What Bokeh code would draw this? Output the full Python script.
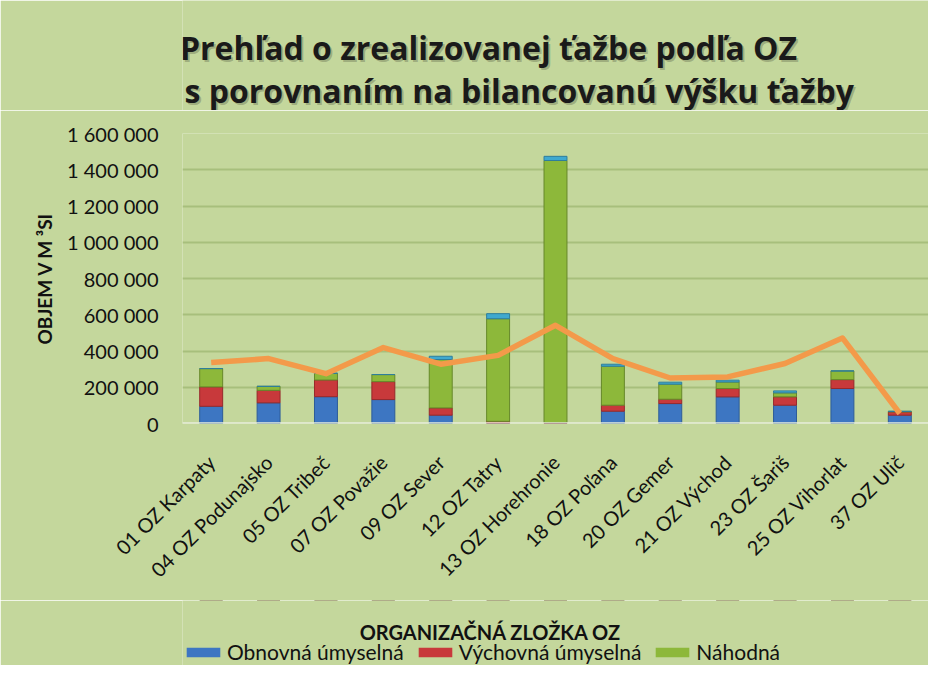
from bokeh.plotting import figure
from bokeh.models import (FactorRange, FixedTicker, Legend, LegendItem, Span, Label)
from bokeh.layouts import column
from bokeh.embed import file_html
from bokeh.resources import INLINE
import math

categories = ["01 OZ Karpaty", "04 OZ Podunajsko", "05 OZ Tribeč", "07 OZ Považie",
              "09 OZ Sever", "12 OZ Tatry", "13 OZ Horehronie", "18 OZ Poľana",
              "20 OZ Gemer", "21 OZ Východ", "23 OZ Šariš", "25 OZ Vihorlat", "37 OZ Ulič"]
obnovna = [95000, 114000, 148000, 132000, 46000, 0, 0, 68000, 110000, 147000, 101000, 193000, 46000]
vychovna = [107000, 69000, 92000, 99000, 40000, 12000, 5000, 33000, 24000, 46000, 46000, 49000, 18000]
nahodna = [101000, 22000, 37000, 39000, 267000, 566000, 1446000, 215000, 83000, 36000, 22000, 48000, 3000]
ostatne = [0, 0, 0, 0, 18000, 28000, 23000, 11000, 11000, 10000, 11000, 0, 0]
bilancia = [336000, 358000, 275000, 419000, 327000, 376000, 542000, 358000, 251000, 257000, 331000, 472000, 55000]
y_ticks = [0, 200000, 400000, 600000, 800000, 1000000, 1200000, 1400000, 1600000]
y_tick_labels = ["0", "200 000", "400 000", "600 000", "800 000", "1 000 000", "1 200 000", "1 400 000", "1 600 000"]
series_names = ["Obnovná úmyselná", "Výchovná úmyselná", "Náhodná"]
title_lines = ["Prehľad o zrealizovanej ťažbe podľa OZ", "s porovnaním na bilancovanú výšku ťažby"]
x_title = "ORGANIZAČNÁ ZLOŽKA OZ"
y_title = "OBJEM V M ³SI"

BG = "#C4D79C"
FONT = "Lato"
FILLS = ["#3D76C2", "#C8393B", "#8DB83A", "#3FA9CF"]
LINES = ["#2D5C99", "#97292B", "#66882A", "#2E7E9C"]
W = 928

data = dict(cat=categories, obn=obnovna, vyc=vychovna, nah=nahodna, ost=ostatne)

# ---- title strip ----
pt = figure(width=W, height=110, x_range=(0, 1), y_range=(0, 1), output_backend="svg",
            toolbar_location=None, x_axis_type=None, y_axis_type=None,
            background_fill_color=BG, border_fill_color=BG, min_border=0,
            min_border_left=182, min_border_right=0)
pt.outline_line_color = None
pt.grid.visible = False
for txt, sx, sy, align in [(title_lines[0], 306, 63, "center"), (title_lines[1], 2, 20, "left")]:
    pt.add_layout(Label(x=sx + 2, y=sy - 2, x_units="screen", y_units="screen", text=txt,
                        text_align=align, text_baseline="alphabetic",
                        text_font="Open Sans", text_font_style="bold", text_font_size="32px",
                        text_color="#000000", text_alpha=0.2))
    pt.add_layout(Label(x=sx, y=sy, x_units="screen", y_units="screen", text=txt,
                        text_align=align, text_baseline="alphabetic",
                        text_font="Open Sans", text_font_style="bold", text_font_size="32px",
                        text_color="#1A1A1A"))

# ---- main chart ----
p = figure(x_range=FactorRange(*categories, range_padding=0), y_range=(0, 1600000),
           width=W, height=490, output_backend="svg", toolbar_location=None,
           background_fill_color=BG, border_fill_color=BG,
           min_border_left=182, min_border_right=0, min_border_top=23, min_border_bottom=177)
p.outline_line_color = None

r = p.vbar_stack(["obn", "vyc", "nah", "ost"], x="cat", width=0.4, source=data,
                 fill_color=FILLS, line_color=LINES, line_width=1)

p.line(categories, bilancia, line_color="#F39A4A", line_width=5.5, line_join="round")

p.add_layout(Span(location=0, dimension="width", line_color="#E8EEDC", line_width=2.5))

p.ygrid.grid_line_color = "#A7BF7C"
p.ygrid.grid_line_width = 2
p.xgrid.grid_line_color = None

p.yaxis.ticker = FixedTicker(ticks=y_ticks)
p.yaxis.major_label_overrides = {t: l for t, l in zip(y_ticks, y_tick_labels)}
p.yaxis.major_label_text_font = FONT
p.yaxis.major_label_text_font_size = "20px"
p.yaxis.major_label_text_color = "#111111"
p.yaxis.major_label_standoff = 18
p.yaxis.axis_line_color = None
p.yaxis.major_tick_line_color = None
p.yaxis.minor_tick_line_color = None
p.yaxis.axis_label = y_title
p.yaxis.axis_label_text_font = FONT
p.yaxis.axis_label_text_font_style = "bold"
p.yaxis.axis_label_text_font_size = "19px"
p.yaxis.axis_label_text_color = "#111111"
p.yaxis.axis_label_standoff = 8

p.xaxis.major_label_orientation = math.pi / 4
p.xaxis.major_label_text_font = FONT
p.xaxis.major_label_text_font_size = "20px"
p.xaxis.major_label_text_color = "#111111"
p.xaxis.major_label_standoff = 29
p.xaxis.axis_line_color = None
p.xaxis.major_tick_line_color = None

# ---- x title + legend strip (its data lie outside its y range, so no bars show) ----
pb = figure(width=W, height=65, x_range=FactorRange(*categories, range_padding=0), y_range=(-2, -1),
            output_backend="svg", toolbar_location=None, x_axis_type=None, y_axis_type=None,
            background_fill_color=BG, border_fill_color=BG, min_border=0,
            min_border_left=182, min_border_right=0)
pb.outline_line_color = None
pb.grid.visible = False
rb = pb.vbar_stack(["obn", "vyc", "nah"], x="cat", width=0.4, source=data,
                   fill_color=FILLS[:3], line_color=None)
pb.add_layout(Label(x=308, y=34, x_units="screen", y_units="screen", text=x_title,
                    text_align="center", text_baseline="middle",
                    text_font=FONT, text_font_style="bold", text_font_size="20px",
                    text_color="#111111"))
legend = Legend(items=[LegendItem(label=series_names[i], renderers=[rb[i]]) for i in range(3)],
                location=(0, 1), orientation="horizontal",
                background_fill_alpha=0, border_line_color=None,
                glyph_width=42, glyph_height=12, label_standoff=3, spacing=10,
                padding=0, margin=0,
                label_text_font=FONT, label_text_font_size="21px", label_text_color="#111111")
pb.add_layout(legend, "center")

layout = column(pt, p, pb, spacing=0)
open("out.html", "w").write(file_html(layout, INLINE))
